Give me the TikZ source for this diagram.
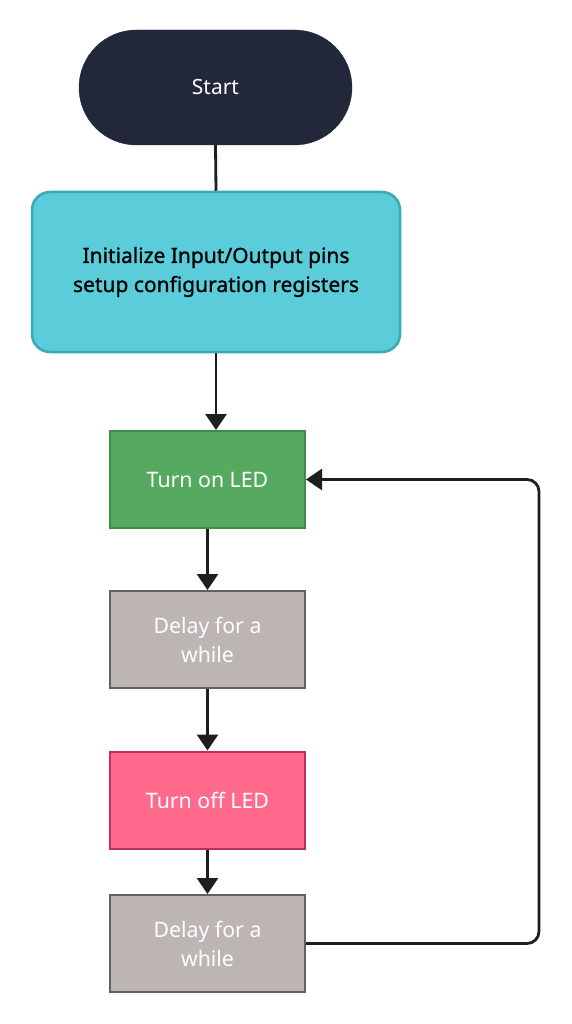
\documentclass[tikz,border=0pt]{standalone}
\usepackage{fontspec}
\setmainfont{Noto Sans}
\newfontfamily\semib[FakeBold=1]{Noto Sans}
\usetikzlibrary{arrows.meta,shapes.misc}
\definecolor{startfill}{HTML}{222839}
\definecolor{initfill}{HTML}{5BCCD9}
\definecolor{initdraw}{HTML}{3AAAB8}
\definecolor{onfill}{HTML}{55AA60}
\definecolor{ondraw}{HTML}{3E8E48}
\definecolor{delayfill}{HTML}{BDB5B3}
\definecolor{delaydraw}{HTML}{616161}
\definecolor{offfill}{HTML}{FF6A8D}
\definecolor{offdraw}{HTML}{C0305A}
\definecolor{linecol}{HTML}{1E1E1E}
\tikzset{
  box/.style={rectangle, line width=2pt, minimum width=195pt, minimum height=97pt, inner sep=0pt, align=center, font=\fontsize{21.3}{29}\selectfont},
  conn/.style={draw=linecol, line width=2.8pt},
  arr/.style={conn, -{Triangle[length=16pt,width=21pt]}},
}
\begin{document}
\begin{tikzpicture}[x=1pt,y=-1pt]
\useasboundingbox (0,0) rectangle (571,1024);
\fill[white] (0,0) rectangle (571,1024);
\node[rounded rectangle, fill=startfill, draw=startfill, minimum width=273pt, minimum height=115pt, inner sep=0pt, text=white, font=\fontsize{21}{29}\selectfont] (start) at (215.5,87.5) {Start};
\node[rectangle, rounded corners=18pt, fill=initfill, draw=initdraw, line width=2.5pt, minimum width=368pt, minimum height=160pt, inner sep=0pt, align=center, text=black, font=\semib\fontsize{21}{29}\selectfont] (init) at (216,272) {Initialize Input/Output pins\\setup configuration registers};
\node[box, fill=onfill, draw=ondraw, text=white] (on) at (207.5,479.5) {Turn on LED};
\node[box, fill=delayfill, draw=delaydraw, text=white] (d1) at (207.5,639.5) {Delay for a\\while};
\node[box, fill=offfill, draw=offdraw, text=white] (off) at (207.5,800) {Turn off LED};
\node[box, fill=delayfill, draw=delaydraw, text=white] (d2) at (207.5,943.5) {Delay for a\\while};
\draw[conn] (start.south) -- (init.north);
\draw[arr] (init.south) -- (init.south |- on.north);
\draw[arr] (on.south) -- (d1.north);
\draw[arr] (d1.south) -- (off.north);
\draw[arr] (off.south) -- (d2.north);
\draw[arr, rounded corners=12pt] (d2.east) -- ++(233,0) |- (on.east);
\end{tikzpicture}
\end{document}
